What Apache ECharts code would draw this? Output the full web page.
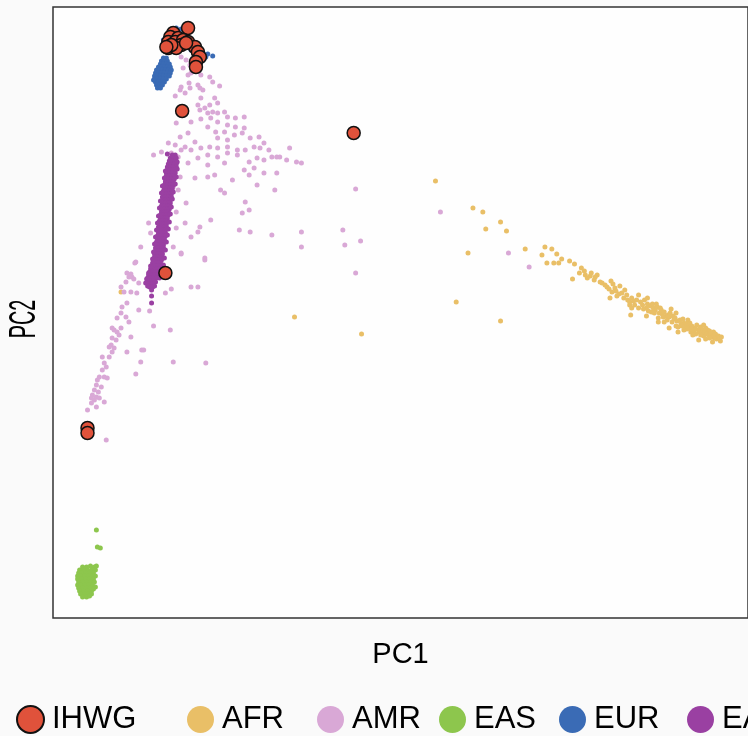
<!DOCTYPE html>
<html>
<head>
<meta charset="utf-8">
<script src="https://cdn.jsdelivr.net/npm/echarts@6/dist/echarts.min.js"></script>
<style>
html,body{margin:0;padding:0;background:#fafafa;}
#chart{width:748px;height:736px;}
</style>
</head>
<body>
<div id="chart"></div>
<script>
// PC scores (arbitrary scaled units)
var ihwg = [[137,590],[122,585],[119,581],[127,580],[117,576],[124,576],[132,578],[137,576],[130,573],[117,570],[125,570],[144,571],[135,575],[147,566],[149,561],[145,556],[145,551],[120,573],[115,571],[131,507],[305,485],[114,345],[35,190],[35,185]];

var afr = [[388,437],[426,410],[436,406],[454,396],[439,389],[460,387],[479,369],[421,365],[409,316],[454,297],[245,301],[313,284],[69,326],
[499,371],[506,369],[496,363],[511,364],[516,359],[501,355],[508,355],[513,355],[524,357],[529,354],[536,350],[534,345],[540,343],[546,345],[552,343],[527,339],[542,340],[549,338],[557,335],[566,337],[562,331],[570,330],[575,332],[567,326],[577,325],[565,320],[582,323],[587,320],[594,323],[585,316],[590,313],[600,318],[587,310],[586,303],[602,310],[612,314],[607,306],[602,302],[617,308],[627,309],[624,303],[632,305],[614,300],[620,296],[630,299],[640,295],[644,298],[634,291],[650,290],[657,291],[664,288],[647,286],[670,286],[674,281],[660,282],[669,276],[655,278],[634,286],[625,290],
[592,318],[596,316],[598,313],[603,314],[606,312],[609,310],[611,308],[613,311],[615,305],[618,304],[620,306],[622,302],[625,301],[626,305],[629,302],[631,300],[633,297],[636,298],[637,294],[639,299],[641,292],[643,294],[645,291],[646,295],[648,292],[650,287],[652,289],[653,293],[655,286],[656,289],[658,285],[659,288],[661,286],[662,290],[663,284],[665,283],[666,287],[667,285],[668,281],[670,283],[671,280],[672,284],[673,279],[675,282],[676,280],[677,277],[678,281],[666,280],[662,279],[657,283],[652,284],[647,289],[643,289],[638,292],[628,296],[623,298],[619,301],[610,305],[604,307],[599,309],[594,310],[589,317],[583,318],[579,320],[574,324],[571,327],[564,329],[560,333],[555,336],[550,341],[545,342],[539,347],[580,328],[572,322],[568,334],[585,313],[603,320],[614,296],[632,292],[660,293],[649,283],[640,288],[616,310],[608,314]];

var amr = [[129,528],[138,535],[149,530],[162,536],[169,532],[134,525],[124,522],[150,520],[164,520],[159,513],[147,513],[154,510],[167,515],[174,506],[162,506],[149,508],[157,505],[167,505],[177,501],[185,500],[194,501],[150,499],[160,500],[127,505],[125,495],[140,496],[167,496],[177,493],[185,491],[194,490],[157,491],[165,486],[174,486],[184,483],[192,485],[200,480],[209,481],[214,475],[167,480],[177,478],[137,485],[129,481],[117,475],[124,473],[134,471],[144,476],[130,468],[140,468],[150,470],[159,471],[167,470],[177,471],[187,468],[195,468],[204,471],[210,470],[219,468],[227,461],[240,470],[120,465],[110,466],[102,463],[127,461],[147,460],[157,463],[167,461],[177,465],[187,463],[199,456],[207,460],[214,458],[222,461],[230,461],[237,458],[247,456],[252,455],[137,455],[157,453],[174,455],[194,448],[204,450],[214,445],[227,445],[125,450],[129,441],[144,440],[157,441],[164,443],[182,438],[199,443],[207,433],[225,428],[170,428],[174,425],[120,420],[127,428],[122,431],[135,415],[125,406],[195,416],[199,408],[192,405],[160,398],[149,391],[134,395],[125,390],[97,395],[99,385],[147,386],[140,381],[189,388],[200,386],[222,383],[252,386],[252,371],[122,371],[130,365],[89,371],[84,356],[154,358],[75,345],[80,341],
[307,429],[393,406],[294,388],[296,373],[312,377],[307,345],[462,365],[483,351],
[83,355],[79,344],[77,341],[82,339],[74,336],[87,335],[69,331],[72,326],[79,326],[85,325],[75,315],[70,311],[87,308],[69,305],[65,300],[74,301],[77,296],[60,290],[62,288],[65,286],[69,290],[67,283],[60,280],[64,278],[59,273],[57,271],[62,270],[79,281],[90,268],[75,266],[50,261],[57,261],[60,266],[52,255],[54,251],[50,248],[47,241],[52,241],[45,238],[55,240],[44,233],[49,231],[42,228],[46,226],[40,223],[44,221],[39,220],[42,218],[47,220],[39,215],[35,208],[44,211],[52,216],[84,244],[89,256],[122,256],[102,292],[119,288],[92,268],[114,325],[120,329],[140,331],[147,331],[130,364],[154,360],[54,178],[98,307],[155,255],
[130,561],[135,558],[139,553],[132,550],[140,545],[137,543],[150,543],[159,541],[147,533],[130,531],[139,530],[152,528]];

var eas = [[30,51],[34,51],[38,52],[42,51],[27,48],[31,48],[35,48],[39,48],[43,48],[26,45],[29,45],[33,45],[37,45],[41,45],[25,42],[28,42],[32,42],[36,42],[40,42],[43,42],[25,39],[29,39],[33,39],[37,39],[41,39],[26,36],[30,36],[34,36],[38,36],[42,36],[25,33],[28,33],[32,33],[36,33],[40,33],[43,31],[26,30],[30,30],[34,30],[38,30],[41,29],[27,27],[31,27],[35,27],[39,27],[28,24],[32,24],[36,24],[39,24],[30,21],[34,21],[37,22],[44,88],[45,71],[48,70],[44,52]];

var eur = [[112,560],[115,560],[110,557],[113,557],[116,557],[109,554],[112,554],[115,554],[118,554],[107,551],[110,551],[113,551],[116,551],[119,551],[105,548],[108,548],[111,548],[114,548],[117,548],[120,548],[104,545],[107,545],[110,545],[113,545],[116,545],[119,545],[103,542],[106,542],[109,542],[112,542],[115,542],[118,542],[103,539],[106,539],[109,539],[112,539],[115,539],[104,536],[107,536],[110,536],[113,536],[105,533],[108,533],[111,533],[106,530],[109,530],
[102,538],[125,590],[130,589],[112,578],[152,565],[157,564],[162,562],[155,561],[144,573],[140,568],[128,583],[118,586]];

var sas = [[121,463],[124,463],[119,460],[122,460],[125,460],[118,457],[121,457],[124,457],[117,454],[120,454],[123,454],[125,454],[116,451],[119,451],[122,451],[125,451],[116,448],[119,448],[122,448],[124,448],[115,445],[118,445],[121,445],[124,445],[115,442],[118,442],[121,442],[123,442],[114,439],[117,439],[120,439],[123,439],[114,436],[117,436],[120,436],[122,436],[113,433],[116,433],[119,433],[122,433],[113,430],[116,430],[119,430],[121,430],[112,427],[115,427],[118,427],[121,427],[112,424],[115,424],[118,424],[120,424],[111,421],[114,421],[117,421],[120,421],[111,418],[114,418],[117,418],[119,418],[111,415],[114,415],[117,415],[119,415],[110,412],[113,412],[116,412],[118,412],[110,409],[113,409],[116,409],[118,409],[110,406],[113,406],[115,406],[117,406],[109,403],[112,403],[115,403],[117,403],[109,400],[112,400],[114,400],[116,400],[108,397],[111,397],[114,397],[116,397],[108,394],[111,394],[113,394],[115,394],[107,391],[110,391],[113,391],[115,391],[107,388],[110,388],[112,388],[114,388],[107,385],[110,385],[112,385],[114,385],[106,382],[109,382],[112,382],[114,382],[106,379],[109,379],[111,379],[113,379],[105,376],[108,376],[111,376],[113,376],[105,373],[108,373],[110,373],[112,373],[104,370],[107,370],[110,370],[112,370],[104,367],[107,367],[109,367],[111,367],[103,364],[106,364],[109,364],[111,364],[103,361],[106,361],[108,361],[110,361],[102,358],[105,358],[108,358],[110,358],[101,355],[104,355],[107,355],[109,355],[100,352],[103,352],[106,352],[109,352],[99,349],[102,349],[105,349],[108,349],[98,346],[101,346],[104,346],[107,346],[97,343],[100,343],[103,343],[106,343],[96,340],[99,340],[102,340],[105,340],[96,337],[99,337],[102,337],[97,334],[100,334],[98,331],[101,331],[100,328],[100,322],[100,315],[116,464],
[119,458],[126,456],[114,447],[126,449],[113,440],[125,441],[111,432],[124,434],[110,425],[122,426],[109,417],[121,419],[108,410],[120,411],[107,402],[119,404],[106,395],[118,396],[105,388],[117,389],[104,381],[116,383],[103,374],[115,376],[102,366],[114,368],[101,359],[113,360],[99,352],[112,353],[97,345],[110,346],[95,339],[108,340],[94,335],[104,336],[96,332],[103,332]];

var groupNames = ['IHWG','AFR','AMR','EAS','EUR','EAS (SAS)'];
var groupColors = ['#E0523B','#E9BF67','#D9A8D6','#8DC64D','#3A6BB5','#9A40A2'];
var legendLeft = [16,187,317,439,559,687];

var FONT = "'Liberation Sans',Arial,Helvetica,sans-serif";
var chart = echarts.init(document.getElementById('chart'));

function dots(name, data, color) {
  return {type:'scatter', name:name, data:data, symbol:'circle', symbolSize:5,
    itemStyle:{color:color, opacity:1}, emphasis:{disabled:true}, animation:false, silent:true};
}

var series = [
  dots(groupNames[1], afr, groupColors[1]),
  dots(groupNames[2], amr, groupColors[2]),
  dots(groupNames[3], eas, groupColors[3]),
  dots(groupNames[4], eur, groupColors[4]),
  dots(groupNames[5], sas, groupColors[5]),
  {type:'scatter', name:groupNames[0], data:ihwg, symbol:'circle', symbolSize:13,
   itemStyle:{color:groupColors[0], borderColor:'#111', borderWidth:1.5, opacity:1},
   emphasis:{disabled:true}, animation:false, silent:true}
];

var legends = groupNames.map(function(n, i){
  return {
    type:'plain', orient:'horizontal', left:legendLeft[i], top:704, padding:0,
    data:[{name:n, icon:'circle', itemStyle: i===0 ? {color:groupColors[0], borderColor:'#111', borderWidth:2} : {color:groupColors[i], borderWidth:0}}],
    itemWidth:29, itemHeight:27, selectedMode:false,
    textStyle:{fontSize:31, color:'#000', fontFamily:FONT, padding:[0,0,0,2]}
  };
});

chart.setOption({
  backgroundColor:'#fafafa',
  animation:false,
  grid:{left:53, top:7, width:705, height:611, show:true, borderColor:'#333', borderWidth:1.5, backgroundColor:'#fefefe'},
  xAxis:{type:'value', min:0, max:705, name:'PC1', nameLocation:'middle', nameGap:22,
    nameTextStyle:{fontSize:29, color:'#000', fontFamily:FONT},
    axisLine:{show:false}, axisTick:{show:false}, axisLabel:{show:false}, splitLine:{show:false}},
  yAxis:{type:'value', min:0, max:611,
    axisLine:{show:false}, axisTick:{show:false}, axisLabel:{show:false}, splitLine:{show:false}},
  legend: legends,
  graphic:[{type:'text', x:25, y:319, rotation:Math.PI/2, scaleX:0.55, scaleY:1.05, silent:true,
    style:{text:'PC2', fontSize:36, fontFamily:FONT, fill:'#000', align:'center', verticalAlign:'middle', textAlign:'center', textVerticalAlign:'middle'}}],
  series:series
});
</script>
</body>
</html>
